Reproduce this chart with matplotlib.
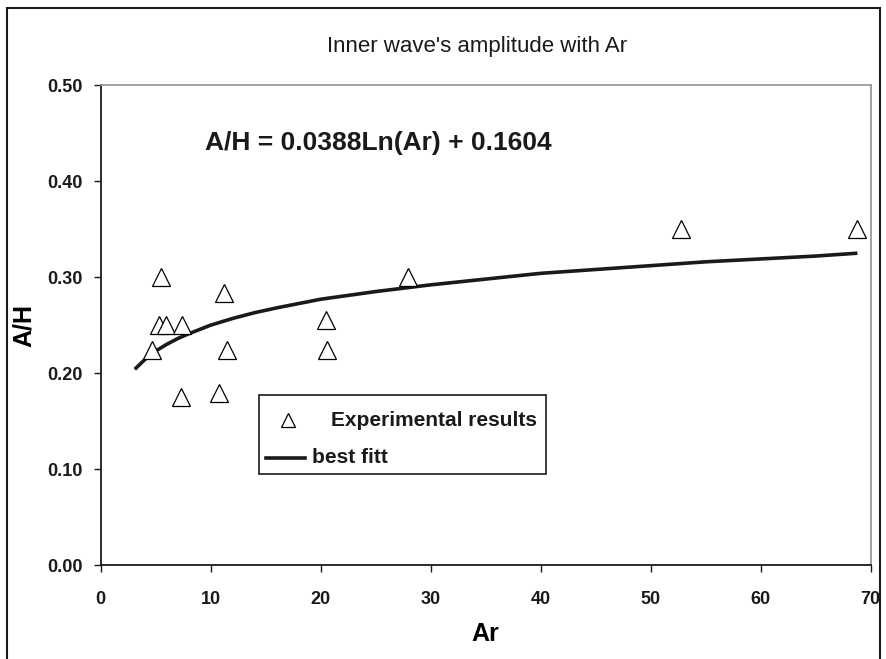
"""
Inner wave's amplitude vs Ar: experimental points + log best fit.
"""

import matplotlib
matplotlib.use("Agg")
import matplotlib.pyplot as plt
from matplotlib.patches import Rectangle

# -----------------------------
# Data
# -----------------------------
ar_exp = [4.7, 5.45, 5.3, 5.95, 7.35, 7.3, 10.8, 11.2, 11.5, 20.5, 20.6, 27.9, 52.8, 68.8]
ah_exp = [0.224, 0.300, 0.250, 0.250, 0.250, 0.175, 0.179, 0.284, 0.224, 0.255, 0.224, 0.300, 0.350, 0.350]

# points
ar_fit = [3.1, 4, 5, 6, 7, 8, 10, 12, 14, 16, 20, 25, 30, 35, 40, 45, 50, 55, 60, 65, 68.8]
ah_fit = [0.204, 0.214, 0.223, 0.230, 0.236, 0.241, 0.250, 0.257, 0.263, 0.268, 0.277,
          0.285, 0.292, 0.298, 0.304, 0.308, 0.312, 0.316, 0.319, 0.322, 0.325]

x_ticks = [0, 10, 20, 30, 40, 50, 60, 70]
y_ticks = [0.0, 0.1, 0.2, 0.3, 0.4, 0.5]

title = "Inner wave's amplitude with Ar"
equation = "A/H = 0.0388Ln(Ar) + 0.1604"

plt.rcParams["font.family"] = ["Liberation Sans", "DejaVu Sans"]

# -----------------------------
# Figure
# -----------------------------
fig = plt.figure(figsize=(8.87, 6.59), dpi=100)
ax = fig.add_axes([0.1135, 0.1426, 0.868, 0.728])

ax.plot(ar_fit, ah_fit, color="#1a1a1a", lw=2.6, solid_capstyle="butt", zorder=2)
ax.plot(ar_exp, ah_exp, linestyle="none", marker="^", ms=12.5, mfc="white",
        mec="black", mew=0.9, zorder=3)

ax.set_xlim(0, 70)
ax.set_ylim(0, 0.5)
ax.set_xticks(x_ticks)
ax.set_yticks(y_ticks)
ax.set_xticklabels([str(v) for v in x_ticks], fontsize=13, fontweight="bold")
ax.set_yticklabels([f"{v:.2f}" for v in y_ticks], fontsize=13, fontweight="bold")
ax.tick_params(axis="both", direction="out", length=5, width=1, colors="#1a1a1a")
ax.tick_params(axis="x", pad=14)
ax.tick_params(axis="y", pad=8)

for side in ("left", "bottom"):
    ax.spines[side].set_color("#1a1a1a")
    ax.spines[side].set_linewidth(1.3)
for side in ("top", "right"):
    ax.spines[side].set_color("#999999")
    ax.spines[side].set_linewidth(1.3)

ax.set_xlabel("Ar", fontsize=18, fontweight="bold", labelpad=10)
ax.set_ylabel("A/H", fontsize=18, fontweight="bold", labelpad=8)

fig.text(0.538, 0.929, title, fontsize=16, ha="center", va="center", color="#1a1a1a")
ax.text(0.135, 0.880, equation, transform=ax.transAxes, fontsize=19,
        fontweight="bold", ha="left", va="center", color="#1a1a1a")

# legend box drawn by hand (rows aligned differently, like the original)
ax.add_patch(Rectangle((0.206, 0.190), 0.372, 0.164, transform=ax.transAxes,
                       fill=False, ec="#1a1a1a", lw=1.2, zorder=4))
ax.plot([0.243], [0.302], transform=ax.transAxes, marker="^", ms=10, mfc="white",
        mec="black", mew=0.9, zorder=5)
ax.text(0.299, 0.302, "Experimental results", transform=ax.transAxes, fontsize=15,
        fontweight="bold", va="center", color="#1a1a1a", zorder=5)
ax.plot([0.215, 0.265], [0.224, 0.224], transform=ax.transAxes, color="#1a1a1a",
        lw=2.6, zorder=5)
ax.text(0.274, 0.224, "best fitt", transform=ax.transAxes, fontsize=15,
        fontweight="bold", va="center", color="#1a1a1a", zorder=5)

# outer chart border (bottom edge runs off the image)
fig.patches.append(Rectangle((0.008, -0.05), 0.984, 1.038, transform=fig.transFigure,
                             fill=False, ec="#1a1a1a", lw=1.5))

fig.savefig("out.png", dpi=100)
